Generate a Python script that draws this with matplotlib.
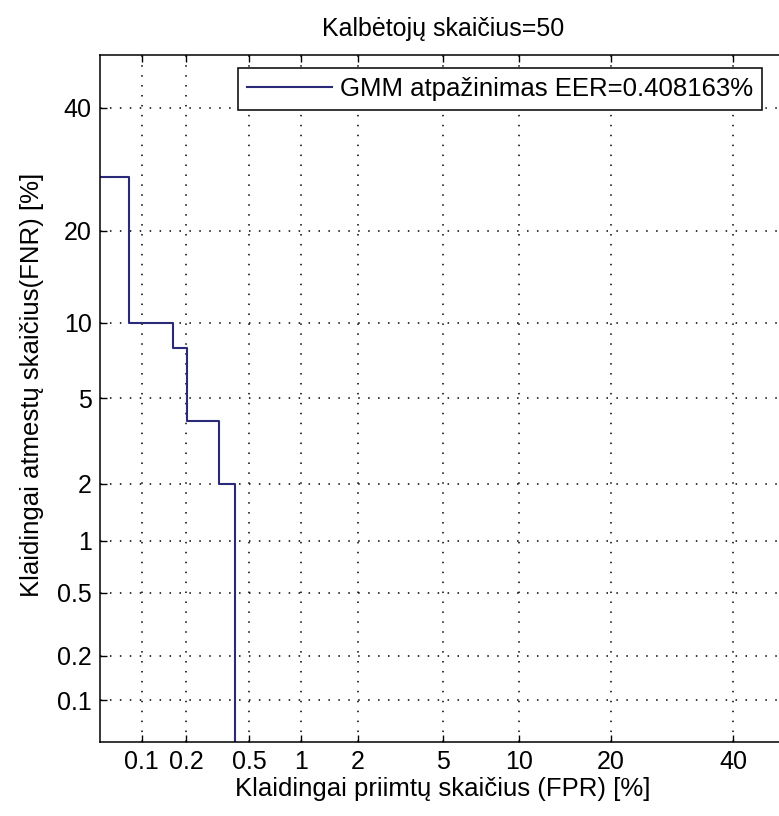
import matplotlib
matplotlib.use('Agg')
import matplotlib.pyplot as plt
import numpy as np
from statistics import NormalDist

# DET curve data (percent)
fpr = [0.0408, 0.0816, 0.1633, 0.2041, 0.3265, 0.4082]
fnr = [28.0, 10.0, 8.0, 4.0, 2.0, 0.0]
tick_vals = [0.1, 0.2, 0.5, 1, 2, 5, 10, 20, 40]
tick_labels = ['0.1', '0.2', '0.5', '1', '2', '5', '10', '20', '40']
lims = [0.05, 50]
legend_label = 'GMM atpažinimas EER=0.408163%'

plt.rcParams['font.family'] = ['Liberation Sans', 'DejaVu Sans']

_nd = NormalDist()
_ppf = np.vectorize(lambda p: _nd.inv_cdf(min(max(p / 100.0, 1e-7), 1 - 1e-7)),
                    otypes=[float])
_cdf = np.vectorize(lambda z: _nd.cdf(z) * 100.0, otypes=[float])


def probit(x):
    return _ppf(np.asarray(x, dtype=float))


def inv_probit(z):
    return _cdf(np.asarray(z, dtype=float))


fig = plt.figure(figsize=(7.79, 8.16), dpi=100)
ax = fig.add_axes([100 / 779, 74 / 816, 686 / 779, 687 / 816])

ax.set_xscale('function', functions=(probit, inv_probit))
ax.set_yscale('function', functions=(probit, inv_probit))

ax.step(fpr, fnr, where='post', color='#2a2a78', linewidth=1.5, label=legend_label)

ax.set_xlim(lims)
ax.set_ylim(lims)
ax.set_xticks(tick_vals)
ax.set_xticklabels(tick_labels)
ax.set_yticks(tick_vals)
ax.set_yticklabels(tick_labels)
ax.minorticks_off()

ax.tick_params(direction='in', length=5, width=1, top=True, right=True,
               labelsize=18, pad=6, colors='black')
ax.grid(True, color='black', linestyle=(0, (1, 5.5)), linewidth=1.1)
for s in ax.spines.values():
    s.set_linewidth(1.1)
    s.set_color('black')

ax.set_title('Kalbėtojų skaičius=50', fontsize=18, pad=14)
ax.set_xlabel('Klaidingai priimtų skaičius (FPR) [%]', fontsize=18.5, labelpad=2)
ax.set_ylabel('Klaidingai atmestų skaičius(FNR) [%]', fontsize=18.5, labelpad=8)
ax.yaxis.set_label_coords(-0.082, 0.52)

leg = ax.legend(loc='upper right', bbox_to_anchor=(662 / 686, 1 - 13 / 687),
                borderaxespad=0, fontsize=18.5, fancybox=False, framealpha=1,
                edgecolor='black', handlelength=3.3, handletextpad=0.3,
                borderpad=0.35)
leg.get_frame().set_linewidth(1.1)

fig.savefig('out.png', dpi=100)
